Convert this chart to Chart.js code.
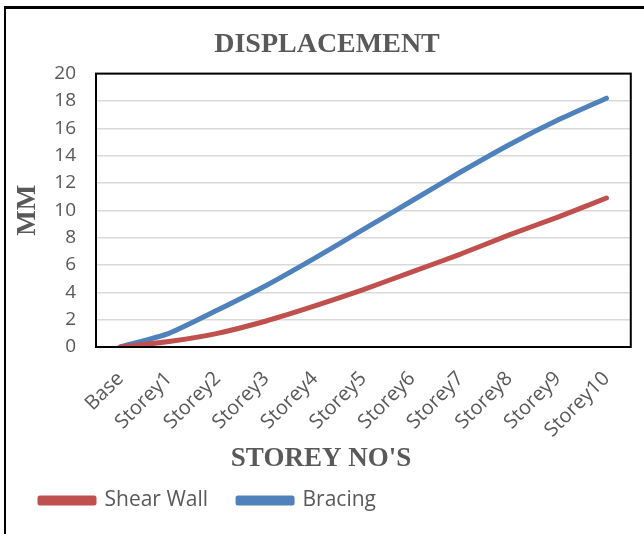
<!DOCTYPE html>
<html>
<head>
<meta charset="utf-8">
<script src="https://cdn.jsdelivr.net/npm/chart.js@4"></script>
<style>
  html, body { margin: 0; padding: 0; background: #fff; }
  #wrap { position: relative; width: 644px; height: 534px; overflow: hidden; }
  #frame { position: absolute; left: 4px; top: 6px; width: 660px; height: 560px; border-left: 2px solid #000; border-top: 3px solid #000; pointer-events: none; }
  canvas { position: absolute; left: 0; top: 0; }
</style>
</head>
<body>
<div id="wrap">
  <canvas id="chart" width="644" height="534"></canvas>
  <div id="frame"></div>
</div>
<script>
// categories and values
const storeys = ['Base', 'Storey1', 'Storey2', 'Storey3', 'Storey4', 'Storey5', 'Storey6', 'Storey7', 'Storey8', 'Storey9', 'Storey10'];
const shearWall = [0, 0.4, 1.0, 1.9, 3.0, 4.2, 5.5, 6.8, 8.2, 9.5, 10.9];
const bracing = [0, 1.0, 2.7, 4.5, 6.5, 8.6, 10.7, 12.8, 14.8, 16.6, 18.2];
const yTicks = [0, 2, 4, 6, 8, 10, 12, 14, 16, 18, 20];

const grey = '#595959';
const serif = '"Liberation Serif", "Times New Roman", serif';
const sans = '"Open Sans", "Noto Sans", sans-serif';

// black frame round the plot area
const plotBorder = {
    id: 'plotBorder',
    afterDatasetsDraw(chart) {
        const { ctx, chartArea: a } = chart;
        ctx.save();
        ctx.strokeStyle = '#000';
        ctx.lineWidth = 2;
        ctx.strokeRect(a.left, a.top, a.right - a.left, a.bottom - a.top);
        ctx.restore();
    }
};

// small position tweaks: titles a bit right of centre, legend pulled up
const nudge = {
    id: 'nudge',
    afterLayout(chart) {
        [chart.titleBlock, chart.$subtitle].forEach(b => { if (b) { b.left += 6; b.right += 6; } });
        chart.legend.top -= 13;
        chart.legend.bottom -= 13;
    }
};

new Chart(document.getElementById('chart'), {
    type: 'line',
    data: {
        labels: storeys,
        datasets: [
            { label: 'Shear Wall', data: shearWall, borderColor: '#C0504D', backgroundColor: '#C0504D' },
            { label: 'Bracing', data: bracing, borderColor: '#4F81BD', backgroundColor: '#4F81BD' }
        ]
    },
    options: {
        responsive: false,
        animation: false,
        layout: { padding: { left: 10, right: 12, top: 0, bottom: 0 } },
        elements: {
            point: { radius: 0 },
            line: { borderWidth: 5, tension: 0.2, borderCapStyle: 'round', borderJoinStyle: 'round' }
        },
        scales: {
            x: {
                offset: true,
                grid: { display: false, drawTicks: false },
                border: { display: false },
                ticks: { color: grey, font: { family: sans, size: 20 }, minRotation: 45, maxRotation: 45, padding: 20 },
                afterFit(scale) { scale.height = 99; }
            },
            y: {
                min: 0,
                max: 20,
                afterBuildTicks(scale) { scale.ticks = yTicks.map(v => ({ value: v })); },
                grid: { color: '#d9d9d9', lineWidth: 1.5, drawTicks: false },
                border: { display: false },
                ticks: { color: grey, font: { family: sans, size: 19 }, padding: 20 },
                title: { display: true, text: 'MM', color: grey, font: { family: serif, size: 27, weight: 'bold' }, padding: { top: 2, bottom: 0 } },
                afterFit(scale) { scale.width = 86; }
            }
        },
        plugins: {
            title: {
                display: true,
                text: 'DISPLACEMENT',
                color: grey,
                font: { family: serif, size: 28, weight: 'bold' },
                padding: { top: 28, bottom: 12 }
            },
            subtitle: {
                display: true,
                text: "STOREY NO'S",
                position: 'bottom',
                weight: 500,
                color: grey,
                font: { family: serif, size: 27, weight: 'bold', lineHeight: 1 },
                padding: 0
            },
            legend: {
                position: 'bottom',
                align: 'start',
                labels: { color: grey, font: { family: sans, size: 21 }, boxWidth: 54, boxHeight: 5, padding: 30 }
            },
            tooltip: { enabled: false }
        }
    },
    plugins: [plotBorder, nudge]
});
</script>
</body>
</html>
